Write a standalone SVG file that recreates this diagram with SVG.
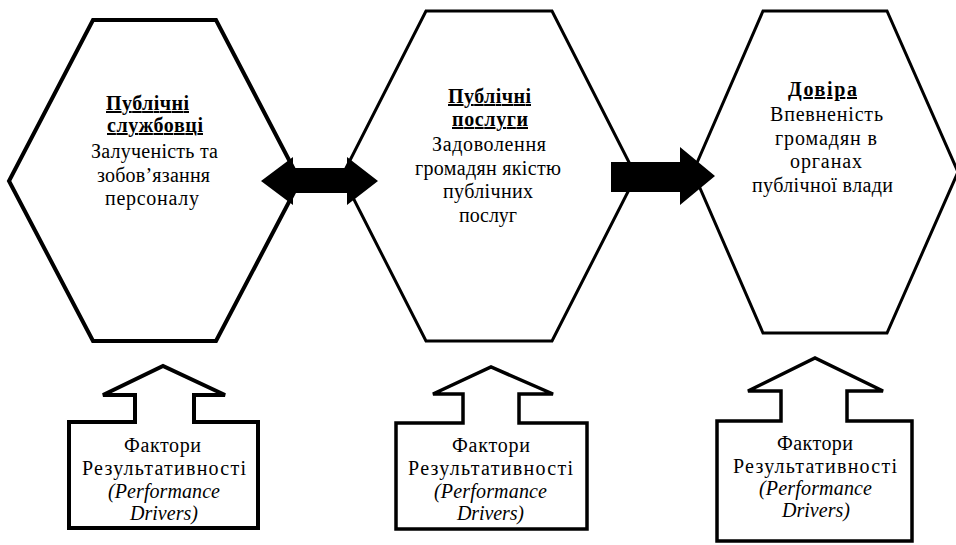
<svg xmlns="http://www.w3.org/2000/svg" width="956" height="545" viewBox="0 0 956 545">
<rect width="956" height="545" fill="#fff"/>
<g id="hex1">
<polygon fill="#fff" stroke="#000" stroke-width="4" points="93,20 216,20 300,181 216,341 93,341 9,181"/>
<text style="font-family:'Liberation Serif'" font-size="20" font-weight="bold" text-decoration="underline" x="106" y="110" textLength="83" lengthAdjust="spacing">Публічні</text>
<text style="font-family:'Liberation Serif'" font-size="20" font-weight="bold" text-decoration="underline" x="107" y="132" textLength="96" lengthAdjust="spacing">службовці</text>
<text style="font-family:'Liberation Serif'" font-size="20" x="91" y="158" textLength="127" lengthAdjust="spacing">Залученість та</text>
<text style="font-family:'Liberation Serif'" font-size="20" x="97" y="182" textLength="113" lengthAdjust="spacing">зобов’язання</text>
<text style="font-family:'Liberation Serif'" font-size="20" x="105" y="205" textLength="94" lengthAdjust="spacing">персоналу</text>
</g>
<g id="hex2">
<polygon fill="#fff" stroke="#000" stroke-width="3" points="426,11 552,11 636,176 552,341 426,341 342,176"/>
<text style="font-family:'Liberation Serif'" font-size="20" font-weight="bold" text-decoration="underline" x="448" y="103" textLength="83" lengthAdjust="spacing">Публічні</text>
<text style="font-family:'Liberation Serif'" font-size="20" font-weight="bold" text-decoration="underline" x="452" y="126" textLength="76" lengthAdjust="spacing">послуги</text>
<text style="font-family:'Liberation Serif'" font-size="20" x="432" y="151" textLength="114" lengthAdjust="spacing">Задоволення</text>
<text style="font-family:'Liberation Serif'" font-size="20" x="415" y="175" textLength="146" lengthAdjust="spacing">громадян якістю</text>
<text style="font-family:'Liberation Serif'" font-size="20" x="443" y="198" textLength="90" lengthAdjust="spacing">публічних</text>
<text style="font-family:'Liberation Serif'" font-size="20" x="459" y="222" textLength="58" lengthAdjust="spacing">послуг</text>
</g>
<g id="hex3">
<polygon fill="#fff" stroke="#000" stroke-width="3" points="763,11 887,11 958,172 887,333 763,333 693,172"/>
<text style="font-family:'Liberation Serif'" font-size="20" font-weight="bold" text-decoration="underline" x="788" y="96" textLength="69" lengthAdjust="spacing">Довіра</text>
<text style="font-family:'Liberation Serif'" font-size="20" x="770" y="121" textLength="113" lengthAdjust="spacing">Впевненість</text>
<text style="font-family:'Liberation Serif'" font-size="20" x="775" y="145" textLength="102" lengthAdjust="spacing">громадян в</text>
<text style="font-family:'Liberation Serif'" font-size="20" x="790" y="168" textLength="72" lengthAdjust="spacing">органах</text>
<text style="font-family:'Liberation Serif'" font-size="20" x="752" y="192" textLength="141" lengthAdjust="spacing">публічної влади</text>
</g>
<g id="connectors" fill="#000">
<path d="M261,181 L293,157 L293,168 L347,168 L347,157 L378,181 L347,205 L347,193 L293,193 L293,205 Z"/>
<path d="M611,162 L680,162 L680,147 L715,176 L680,205 L680,192 L611,192 Z"/>
</g>
<g id="driver1">
<path fill="#fff" stroke="#000" stroke-width="4" d="M69,422 L135,422 L135,395 L103,395 L163,366 L225,395 L194,395 L194,422 L258,422 L258,528 L69,528 Z"/>
<text style="font-family:'Liberation Serif'" font-size="20" x="124" y="452" textLength="77" lengthAdjust="spacing">Фактори</text>
<text style="font-family:'Liberation Serif'" font-size="20" x="82" y="475" textLength="164" lengthAdjust="spacing">Результативності</text>
<text style="font-family:'Liberation Serif'" font-size="20" font-style="italic" x="108" y="498" textLength="112" lengthAdjust="spacing">(Performance</text>
<text style="font-family:'Liberation Serif'" font-size="20" font-style="italic" x="130" y="520" textLength="68" lengthAdjust="spacing">Drivers)</text>
</g>
<g id="driver2">
<path fill="#fff" stroke="#000" stroke-width="3.5" d="M396,423 L463,423 L463,394 L433,394 L491,367 L553,394 L519,394 L519,423 L587,423 L587,529 L396,529 Z"/>
<text style="font-family:'Liberation Serif'" font-size="20" x="452" y="452" textLength="78" lengthAdjust="spacing">Фактори</text>
<text style="font-family:'Liberation Serif'" font-size="20" x="408" y="475" textLength="165" lengthAdjust="spacing">Результативності</text>
<text style="font-family:'Liberation Serif'" font-size="20" font-style="italic" x="434" y="498" textLength="113" lengthAdjust="spacing">(Performance</text>
<text style="font-family:'Liberation Serif'" font-size="20" font-style="italic" x="457" y="520" textLength="67" lengthAdjust="spacing">Drivers)</text>
</g>
<g id="driver3">
<path fill="#fff" stroke="#000" stroke-width="3.5" d="M717,421 L781,421 L781,391 L748,391 L815,358 L883,391 L847,391 L847,421 L912,421 L912,541 L717,541 Z"/>
<text style="font-family:'Liberation Serif'" font-size="20" x="777" y="450" textLength="76" lengthAdjust="spacing">Фактори</text>
<text style="font-family:'Liberation Serif'" font-size="20" x="733" y="473" textLength="164" lengthAdjust="spacing">Результативності</text>
<text style="font-family:'Liberation Serif'" font-size="20" font-style="italic" x="759" y="495" textLength="113" lengthAdjust="spacing">(Performance</text>
<text style="font-family:'Liberation Serif'" font-size="20" font-style="italic" x="782" y="517" textLength="68" lengthAdjust="spacing">Drivers)</text>
</g>
</svg>
